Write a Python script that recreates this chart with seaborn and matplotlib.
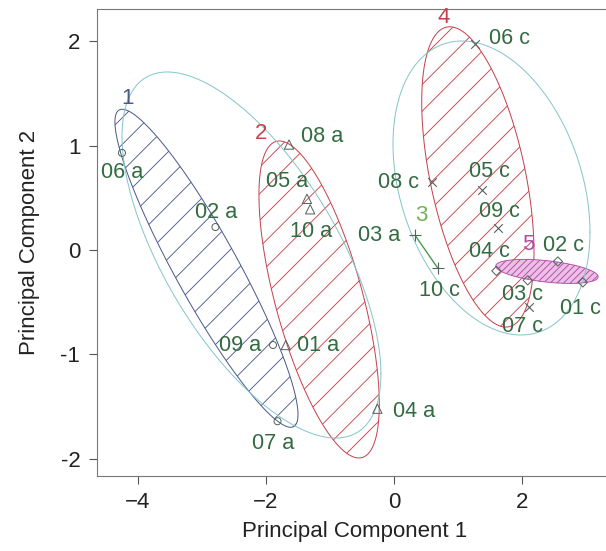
import numpy as np
import pandas as pd
import matplotlib
matplotlib.use("Agg")
import matplotlib.pyplot as plt
import seaborn as sns
from matplotlib.patches import Polygon

# sample scores on the first two principal components
labels = ["06 a", "02 a", "09 a", "07 a",
          "08 a", "05 a", "10 a", "01 a", "04 a",
          "03 a", "10 c",
          "06 c", "08 c", "05 c", "09 c", "07 c",
          "04 c", "02 c", "03 c", "01 c"]
groups = [1] * 4 + [2] * 5 + [3] * 2 + [4] * 5 + [5] * 4
pc1 = [-4.25, -2.79, -1.89, -1.82,
       -1.64, -1.36, -1.31, -1.69, -0.26,
       0.33, 0.68,
       1.26, 0.59, 1.38, 1.62, 2.11,
       1.60, 2.56, 2.09, 2.95]
pc2 = [0.93, 0.22, -0.91, -1.64,
       1.01, 0.49, 0.39, -0.91, -1.52,
       0.14, -0.17,
       1.97, 0.65, 0.57, 0.21, -0.55,
       -0.20, -0.11, -0.29, -0.31]

# group ellipses: centre, x/y radius, correlation (group 3 is only a segment)
ell_groups = [1, 2, 4, 5]
ell_cx = [-2.93, -1.17, 1.31, 2.39]
ell_cy = [-0.175, -0.474, 0.70, -0.205]
ell_rx = [1.43, 0.94, 0.877, 0.80]
ell_ry = [1.523, 1.518, 1.438, 0.115]
ell_r = [-0.92, -0.66, -0.5, -0.45]

# the two big cluster ellipses
clu_cx = [-2.227, 1.523]
clu_cy = [-0.048, 0.594]
clu_rx = [2.023, 1.539]
clu_ry = [1.753, 1.408]
clu_r = [-0.65, -0.3]

xticks = [-4, -2, 0, 2]
yticks = [-2, -1, 0, 1, 2]
ytick_labels = ["-2", "-1", "0", "1", "2"]

df = pd.DataFrame({"pc1": pc1, "pc2": pc2, "label": labels, "group": groups})

# styling
group_col = {1: "#4b5a8c", 2: "#c8424e", 3: "#74b25a", 4: "#c5424c", 5: "#b24aa3"}
group_marker = {1: "o", 2: "^", 3: "+", 4: "x", 5: "D"}
group_size = {1: 40, 2: 70, 3: 110, 4: 60, 5: 35}
mark_col = "#56625c"
text_col = "#336b41"
cyan = "#86c6c8"
# label offsets in pixels (dx, dy)
lab_off = [(0, -20), (1, 15), (-33, 0), (-4, -22),
           (33, 8), (-20, 17), (1, -22), (32, 0), (37, -3),
           (-36, 0), (2, -23),
           (35, 6), (-33, 0), (7, 19), (2, 17), (-7, -19),
           (-7, 19), (6, 16), (-5, -14), (-2, -26)]
glab_off = {1: (5, 11), 2: (-18, 8), 3: (6, 20), 4: (-6, 9), 5: (4, 15)}


def ellipse_xy(cx, cy, rx, ry, r, n=240):
    t = np.linspace(0, 2 * np.pi, n)
    d = np.arcsin(r)
    return np.column_stack([cx + rx * np.cos(t), cy + ry * np.sin(t + d)])


sns.set_style("ticks")
plt.rcParams["font.family"] = ["Liberation Sans", "DejaVu Sans"]
plt.rcParams["hatch.linewidth"] = 0.8

fig = plt.figure(figsize=(606 / 80, 551 / 80), dpi=80)
ax = fig.add_axes([0.1601, 0.1368, 0.8498, 0.8468])

# cluster ellipses
for i in range(len(clu_cx)):
    xy = ellipse_xy(clu_cx[i], clu_cy[i], clu_rx[i], clu_ry[i], clu_r[i])
    ax.plot(xy[:, 0], xy[:, 1], color=cyan, lw=0.9, zorder=2)

# hatched group ellipses
for i, g in enumerate(ell_groups):
    xy = ellipse_xy(ell_cx[i], ell_cy[i], ell_rx[i], ell_ry[i], ell_r[i])
    if g == 5:
        p = Polygon(xy, closed=True, facecolor="#ecbfe6", edgecolor=group_col[g],
                    hatch="////", lw=0.8, zorder=1)
    else:
        p = Polygon(xy, closed=True, facecolor="none", edgecolor=group_col[g],
                    hatch="/", lw=0.9, zorder=1)
    ax.add_patch(p)
    top = (ell_cx[i] + ell_rx[i] * ell_r[i], ell_cy[i] + ell_ry[i])
    ax.annotate(str(g), top, xytext=glab_off[g], textcoords="offset pixels",
                ha="center", va="center", fontsize=20, color=group_col[g])

# group 3 has only two samples -> segment
g3 = df[df.group == 3]
ax.plot(g3.pc1, g3.pc2, color="#3f9a4a", lw=1.2, zorder=2)
i3 = g3.pc2.idxmax()
ax.annotate("3", (g3.pc1[i3], g3.pc2[i3]), xytext=glab_off[3], textcoords="offset pixels",
            ha="center", va="center", fontsize=20, color=group_col[3])

# points
for g in sorted(group_marker):
    sub = df[df.group == g]
    m = group_marker[g]
    if m in ("+", "x"):
        sns.scatterplot(data=sub, x="pc1", y="pc2", marker=m, s=group_size[g],
                        color=mark_col, linewidth=1.0, ax=ax, zorder=3)
    else:
        sns.scatterplot(data=sub, x="pc1", y="pc2", marker=m, s=group_size[g],
                        facecolor="none", edgecolor=mark_col, linewidth=0.9,
                        ax=ax, zorder=3)

for i, row in df.iterrows():
    ax.annotate(row.label, (row.pc1, row.pc2), xytext=lab_off[i], textcoords="offset pixels",
                ha="center", va="center", fontsize=19.5, color=text_col, zorder=4)

ax.set_xlim(-4.64, 3.406)
ax.set_ylim(-2.161, 2.308)
ax.set_xticks(xticks)
ax.set_yticks(yticks)
ax.set_yticklabels(ytick_labels)
ax.tick_params(axis="both", labelsize=20, length=7, width=1, color="#555555",
               pad=8, labelcolor="#222222")
ax.set_xlabel("Principal Component 1", fontsize=20, color="#222222", labelpad=7)
ax.set_ylabel("Principal Component 2", fontsize=20, color="#222222", labelpad=18)
for s in ["top", "left", "bottom"]:
    ax.spines[s].set_color("#777777")
    ax.spines[s].set_linewidth(1.0)
ax.spines["right"].set_visible(False)

fig.savefig("out.png", dpi=80)
